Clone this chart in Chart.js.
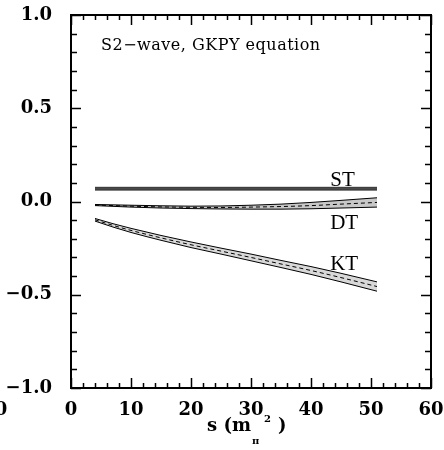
<!DOCTYPE html>
<html>
<head>
<meta charset="utf-8">
<script src="https://cdn.jsdelivr.net/npm/chart.js@4.4.1/dist/chart.umd.min.js"></script>
<style>
	html, body { margin: 0; padding: 0; background: #fff; }
	#chart { display: block; }
</style>
</head>
<body>
<canvas id="chart" width="444" height="450"></canvas>
<script>
const S_VALUES = [4, 7, 10, 15, 20, 25, 30, 35, 40, 45, 51];

// ST band
const ST_UPPER = [0.076, 0.076, 0.076, 0.076, 0.076, 0.076, 0.076, 0.076, 0.076, 0.076, 0.076];
const ST_LOWER = [0.061, 0.061, 0.061, 0.061, 0.061, 0.061, 0.061, 0.061, 0.061, 0.061, 0.061];

// DT band
const DT_UPPER = [-0.016, -0.018, -0.020, -0.023, -0.025, -0.024, -0.020, -0.014, -0.005, 0.006, 0.020];
const DT_LOWER = [-0.022, -0.026, -0.030, -0.035, -0.038, -0.040, -0.041, -0.041, -0.039, -0.035, -0.030];
const DT_MID = [-0.019, -0.022, -0.025, -0.029, -0.031, -0.032, -0.030, -0.027, -0.022, -0.014, -0.005];

// KT band
const KT_UPPER = [-0.091, -0.119, -0.144, -0.182, -0.217, -0.250, -0.282, -0.316, -0.349, -0.385, -0.431];
const KT_LOWER = [-0.105, -0.137, -0.166, -0.208, -0.247, -0.282, -0.318, -0.354, -0.391, -0.431, -0.481];
const KT_MID = [-0.098, -0.128, -0.155, -0.195, -0.232, -0.266, -0.300, -0.335, -0.370, -0.408, -0.456];

// Band labels: [text, s, y]
const BAND_LABELS = [["ST", 43.2, 0.084], ["DT", 43.2, -0.149], ["KT", 43.2, -0.366]];

const TITLE = "S2\u2212wave, GKPY equation";
const X_TICKS = { min: 0, max: 60, step: 10, minor: 2 };
const Y_TICKS = { min: -1, max: 1, step: 0.5, minor: 0.1 };

const TICK_FONT = { family: "'DejaVu Serif'", size: 18, weight: "bold" };

const points = (vals) => S_VALUES.map((s, i) => ({ x: s, y: vals[i] }));

const line = (vals, extra) => ({
	data: points(vals),
	borderColor: "#000",
	borderWidth: 1,
	pointRadius: 0,
	fill: false,
	cubicInterpolationMode: "monotone",
	...extra,
});

// Frame, inward ticks on all four sides, texts
const decorPlugin = {
	id: "decor",
	afterDraw(chart) {
		const { ctx, chartArea: a, scales } = chart;
		const xs = scales.x;
		const ys = scales.y;
		ctx.save();
		ctx.strokeStyle = "#000";
		ctx.lineWidth = 2;
		ctx.strokeRect(a.left, a.top, a.right - a.left, a.bottom - a.top);

		ctx.lineWidth = 1.5;
		ctx.beginPath();
		const nx = Math.round((X_TICKS.max - X_TICKS.min) / X_TICKS.minor);
		for (let i = 0; i <= nx; i++) {
			const v = X_TICKS.min + i * X_TICKS.minor;
			const px = Math.round(xs.getPixelForValue(v)) + 0.5;
			const len = i % 5 === 0 ? 10 : 5;
			ctx.moveTo(px, a.bottom);
			ctx.lineTo(px, a.bottom - len);
			ctx.moveTo(px, a.top);
			ctx.lineTo(px, a.top + len);
		}
		const ny = Math.round((Y_TICKS.max - Y_TICKS.min) / Y_TICKS.minor);
		for (let i = 0; i <= ny; i++) {
			const v = Y_TICKS.min + i * Y_TICKS.minor;
			const py = Math.round(ys.getPixelForValue(v)) + 0.5;
			const len = i % 5 === 0 ? 10 : 6;
			ctx.moveTo(a.left, py);
			ctx.lineTo(a.left + len, py);
			ctx.moveTo(a.right, py);
			ctx.lineTo(a.right - len, py);
		}
		ctx.stroke();

		// title inside the frame
		ctx.fillStyle = "#000";
		ctx.font = "16px 'DejaVu Serif'";
		ctx.textAlign = "left";
		ctx.textBaseline = "alphabetic";
		ctx.letterSpacing = "0.5px";
		ctx.fillText(TITLE, 101, 50);
		ctx.letterSpacing = "0px";

		// band labels
		ctx.font = "21px 'Liberation Serif'";
		BAND_LABELS.forEach(([t, s, y]) => {
			ctx.fillText(t, xs.getPixelForValue(s), ys.getPixelForValue(y));
		});

		// x axis title: s (m_pi^2)
		const f = "bold 18px 'DejaVu Serif'";
		const fs = "bold 10px 'DejaVu Serif'";
		const base = 431;
		const main1 = "s (m";
		ctx.font = f;
		const w1 = ctx.measureText(main1).width;
		let x = 207;
		ctx.fillText(main1, x, base);
		x += w1;
		ctx.font = fs;
		ctx.fillText("\u03c0", x + 1, base + 13);
		ctx.fillText("2", x + 13, base - 9);
		ctx.font = f;
		ctx.fillText(")", x + 27, base);

		// stray label from a neighbouring panel
		ctx.textAlign = "center";
		ctx.textBaseline = "middle";
		ctx.fillText("0", 1, 410);
		ctx.restore();
	},
};

const CHART_CONFIG = {
	type: "line",
	data: {
		datasets: [
			line(ST_UPPER, { borderColor: "#333" }),
			line(ST_LOWER, { fill: "-1", backgroundColor: "#4a4a4a", borderColor: "#333" }),
			line(DT_MID, { borderDash: [4, 3] }),
			line(DT_UPPER),
			line(DT_LOWER, { fill: "-1", backgroundColor: "#c8c8c8" }),
			line(KT_MID, { borderDash: [4, 3] }),
			line(KT_UPPER),
			line(KT_LOWER, { fill: "-1", backgroundColor: "#d8d8d8" }),
		],
	},
	options: {
		responsive: false,
		animation: false,
		layout: {
			padding: { top: 15, right: 13, left: 0, bottom: 0 },
		},
		plugins: {
			legend: { display: false },
			title: { display: false },
			tooltip: { enabled: false },
		},
		scales: {
			x: {
				type: "linear",
				min: X_TICKS.min,
				max: X_TICKS.max,
				border: { display: false },
				grid: { display: false, drawTicks: false },
				ticks: {
					stepSize: X_TICKS.step,
					color: "#000",
					font: TICK_FONT,
					padding: 12,
					maxRotation: 0,
					autoSkip: false,
				},
				afterFit(scale) {
					scale.height = 62;
					scale.paddingLeft = 0;
					scale.paddingRight = 0;
				},
			},
			y: {
				type: "linear",
				min: Y_TICKS.min,
				max: Y_TICKS.max,
				border: { display: false },
				grid: { display: false, drawTicks: false },
				ticks: {
					stepSize: Y_TICKS.step,
					color: "#000",
					font: TICK_FONT,
					padding: 19,
					callback: (v) => (v < 0 ? "\u2212" : "") + Math.abs(v).toFixed(1),
				},
				afterFit(scale) {
					scale.width = 71;
					scale.paddingTop = 0;
					scale.paddingBottom = 0;
				},
			},
		},
	},
	plugins: [decorPlugin],
};

new Chart(document.getElementById("chart"), CHART_CONFIG);
</script>
</body>
</html>
